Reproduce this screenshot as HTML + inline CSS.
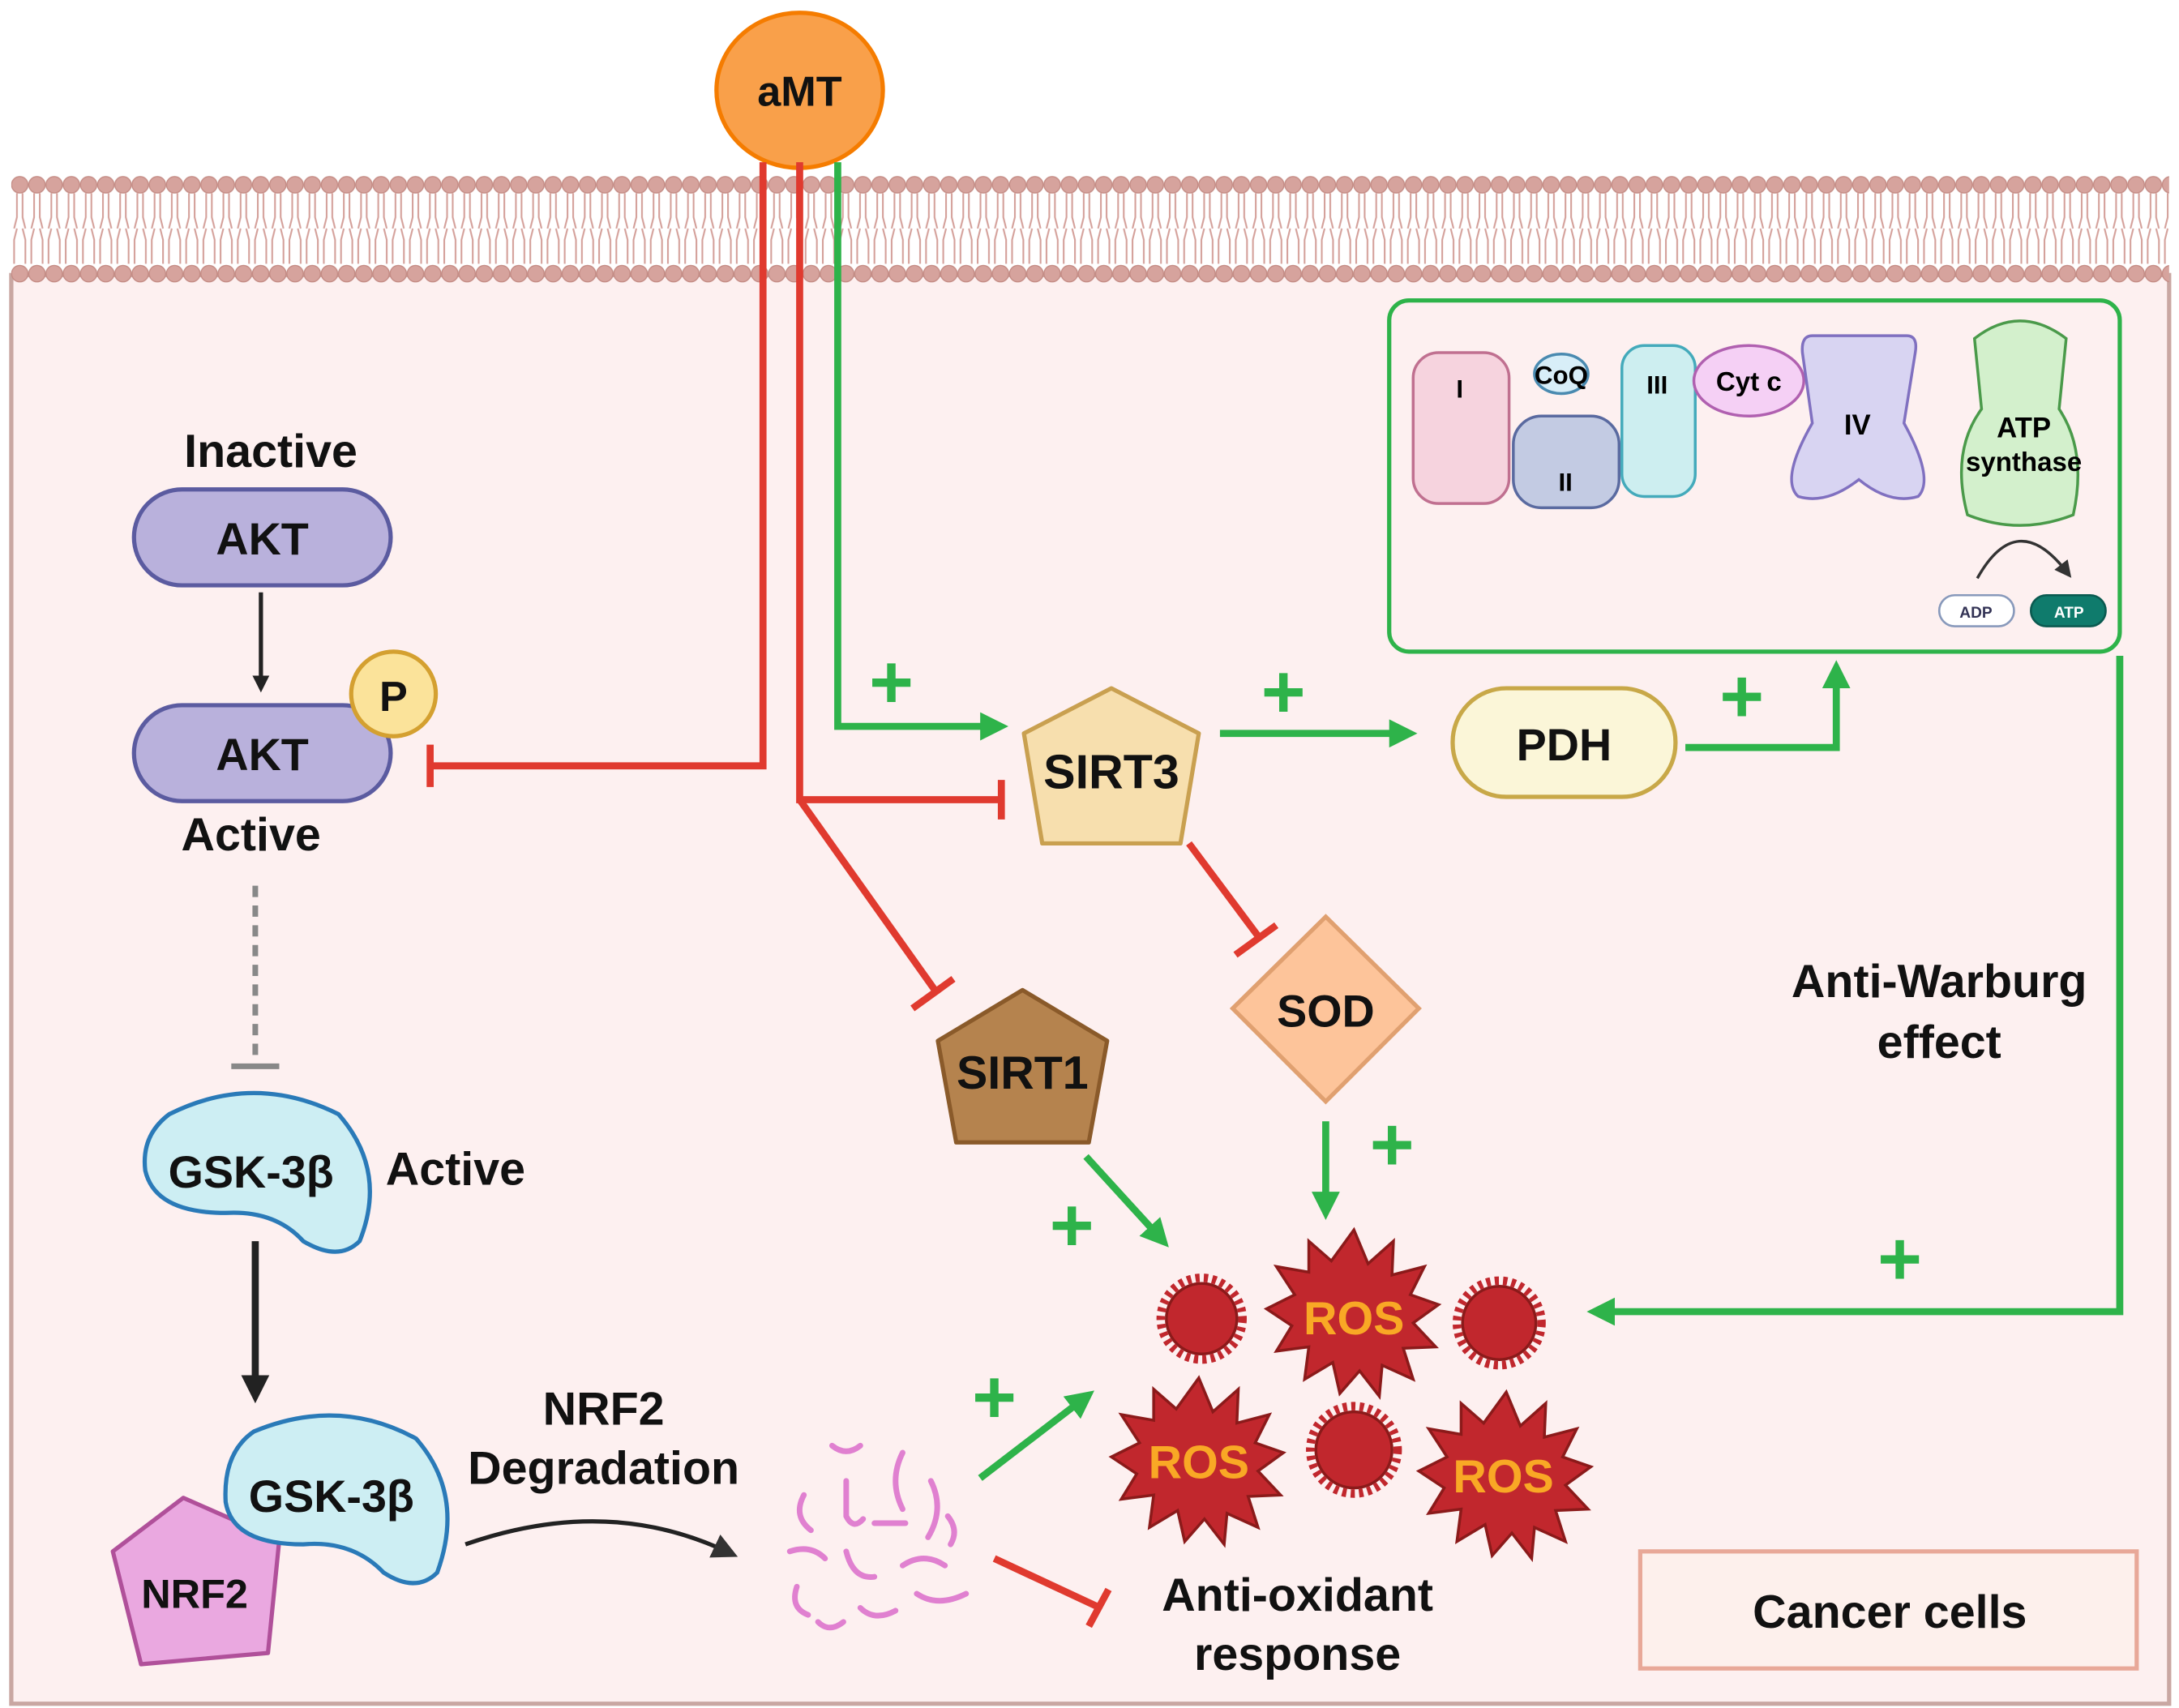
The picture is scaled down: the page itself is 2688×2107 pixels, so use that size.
<!DOCTYPE html>
<html><head><meta charset="utf-8"><style>
html,body{margin:0;padding:0;background:#fff;}
svg{display:block;}
text{font-family:"Liberation Sans",sans-serif;font-weight:bold;}
</style></head><body>
<svg width="2688" height="2107" viewBox="0 0 1545 1211" xmlns="http://www.w3.org/2000/svg">
<defs>
<pattern id="mem" x="8" y="0" width="12.2" height="80" patternUnits="userSpaceOnUse">
<circle cx="6" cy="131" r="6" fill="#d9a9a3"/>
</pattern>
<pattern id="heads" x="8" y="124" width="12.2" height="80" patternUnits="userSpaceOnUse">
<circle cx="6" cy="7" r="5.8" fill="#d6a39d" stroke="#c48b84" stroke-width="0.8"/>
<path d="M4 13 V30 L2 38 M8 13 V30 L10 38" stroke="#d4a09a" stroke-width="1.2" fill="none"/>
<path d="M4 38 L2 46 V63 M8 38 L10 46 V63" stroke="#d4a09a" stroke-width="1.2" fill="none"/>
<circle cx="6" cy="70" r="5.8" fill="#d6a39d" stroke="#c48b84" stroke-width="0.8"/>
</pattern>
<marker id="ag" viewBox="0 0 10 10" refX="5" refY="5" markerWidth="4" markerHeight="4" orient="auto"><path d="M0 0 L10 5 L0 10 z" fill="#2eb34a"/></marker>
<marker id="ak" viewBox="0 0 10 10" refX="5" refY="5" markerWidth="4" markerHeight="4" orient="auto"><path d="M0 0 L10 5 L0 10 z" fill="#222"/></marker>
<marker id="ak2" viewBox="0 0 10 10" refX="5" refY="5" markerWidth="6" markerHeight="6" orient="auto"><path d="M0 0 L10 5 L0 10 z" fill="#333"/></marker>
</defs>
<rect width="1545" height="1211" fill="#fff"/>
<!-- cell -->
<rect x="8" y="195" width="1530" height="1013" fill="#fdf0f0" stroke="#c9a7a2" stroke-width="3"/>
<rect x="8" y="124" width="1530" height="78" fill="url(#heads)"/>
<!-- aMT -->
<ellipse cx="567" cy="64" rx="59" ry="55" fill="#f9a04a" stroke="#f57c00" stroke-width="3"/>
<text x="567" y="75" font-size="30" text-anchor="middle" fill="#111">aMT</text>
<!-- red lines -->
<g stroke="#e03a2f" stroke-width="5" fill="none">
<path d="M541 115 V543 H305"/><path d="M305 528 V558"/>
<path d="M567 115 V567 H710"/><path d="M710 553 V581"/>
<path d="M567 567 L665 705"/><path d="M647 715 L676 694"/>
<path d="M843 598 L893 665"/><path d="M876 677 L905 656"/>
<path d="M705 1105 L780 1140"/><path d="M772 1153 L786 1127"/>
</g>
<!-- green lines -->
<g stroke="#2eb34a" stroke-width="5" fill="none">
<path d="M594 115 V515 H705" marker-end="url(#ag)"/>
<path d="M865 520 H995" marker-end="url(#ag)"/>
<path d="M1195 530 H1302 V478" marker-end="url(#ag)"/>
<path d="M1503 465 V930 H1135" marker-end="url(#ag)"/>
<path d="M940 795 V855" marker-end="url(#ag)"/>
<path d="M770 820 L822 877" marker-end="url(#ag)"/>
<path d="M695 1048 L768 992" marker-end="url(#ag)"/>
</g>
<g fill="#2eb34a" font-size="54" text-anchor="middle">
<text x="632" y="502">+</text><text x="910" y="509">+</text><text x="1235" y="512">+</text>
<text x="1347" y="911">+</text><text x="987" y="830">+</text><text x="760" y="887">+</text><text x="705" y="1009">+</text>
</g>
<!-- ETC box -->
<rect x="985" y="213" width="518" height="249" rx="14" fill="none" stroke="#2eb34a" stroke-width="3"/>
<rect x="1002" y="250" width="68" height="107" rx="18" fill="#f6d3de" stroke="#c07090" stroke-width="2"/>
<text x="1035" y="282" font-size="18" text-anchor="middle" font-weight="normal">I</text>
<rect x="1073" y="295" width="75" height="65" rx="20" fill="#c3cbe3" stroke="#5a6aa0" stroke-width="2"/>
<text x="1110" y="348" font-size="18" text-anchor="middle">II</text>
<ellipse cx="1107" cy="265" rx="19" ry="14" fill="#d8eef8" stroke="#4a8ab0" stroke-width="2"/>
<text x="1107" y="272" font-size="18" text-anchor="middle">CoQ</text>
<rect x="1150" y="245" width="52" height="107" rx="16" fill="#cdeef0" stroke="#4ab" stroke-width="2"/>
<text x="1175" y="279" font-size="18" text-anchor="middle">III</text>
<ellipse cx="1240" cy="270" rx="39" ry="25" fill="#f5d0f5" stroke="#b060b0" stroke-width="2"/>
<text x="1240" y="277" font-size="19" text-anchor="middle">Cyt c</text>
<path d="M1285 238 H1352 Q1360 238 1358 250 L1350 300 Q1372 340 1360 352 Q1340 358 1318 340 Q1295 358 1275 352 Q1262 340 1285 300 L1278 250 Q1277 238 1285 238 Z" fill="#d8d4f2" stroke="#8070c0" stroke-width="2"/>
<text x="1317" y="308" font-size="20" text-anchor="middle">IV</text>
<path d="M1400 240 Q1432 215 1465 240 L1460 290 Q1480 320 1470 365 Q1432 380 1395 365 Q1383 320 1405 290 Z" fill="#d3f0cc" stroke="#4a9a4a" stroke-width="2"/>
<text x="1435" y="310" font-size="20" text-anchor="middle">ATP</text>
<text x="1435" y="334" font-size="19" text-anchor="middle" font-weight="normal">synthase</text>
<path d="M1402 410 Q1430 360 1465 405" stroke="#333" stroke-width="2" fill="none" marker-end="url(#ak2)"/>
<rect x="1375" y="422" width="53" height="22" rx="11" fill="#fff" stroke="#8899bb" stroke-width="1.5"/>
<text x="1401" y="438" font-size="11" text-anchor="middle" font-weight="normal" fill="#335">ADP</text>
<rect x="1440" y="422" width="53" height="22" rx="11" fill="#0f7b6c" stroke="#0a5a50" stroke-width="1.5"/>
<text x="1467" y="438" font-size="11" text-anchor="middle" font-weight="normal" fill="#fff">ATP</text>
<!-- SIRT3 -->
<polygon points="788,488 850,520 837,598 739,598 726,520" fill="#f7dfae" stroke="#c9a050" stroke-width="3" stroke-linejoin="round"/>
<text x="788" y="559" font-size="34" text-anchor="middle" fill="#111">SIRT3</text>
<!-- PDH -->
<rect x="1030" y="488" width="158" height="77" rx="38" fill="#fbf6d8" stroke="#c8a848" stroke-width="3"/>
<text x="1109" y="539" font-size="32" text-anchor="middle" fill="#111">PDH</text>
<!-- SOD -->
<polygon points="940,650 1006,715 940,781 874,715" fill="#fdc49a" stroke="#e0a070" stroke-width="3"/>
<text x="940" y="728" font-size="32" text-anchor="middle" fill="#111">SOD</text>
<!-- SIRT1 -->
<polygon points="725,702 785,738 772,810 678,810 665,738" fill="#b5834e" stroke="#8a5a2a" stroke-width="3" stroke-linejoin="round"/>
<text x="725" y="772" font-size="33" text-anchor="middle" fill="#111">SIRT1</text>
<text x="1375" y="707" font-size="33" text-anchor="middle" fill="#111">Anti-Warburg</text>
<text x="1375" y="750" font-size="33" text-anchor="middle" fill="#111">effect</text>
<!-- ROS -->
<g fill="#c1272d" stroke="#8b1a1a" stroke-width="2">
<polygon id="b1" points="960,872 970,896 988,880 987,904 1010,898 1000,918 1020,925 1002,938 1018,955 995,956 1002,978 980,968 978,990 964,972 950,988 945,966 925,978 928,955 905,958 916,940 898,928 918,918 905,898 928,902 928,880 944,894"/>
<polygon points="850,977 860,1001 878,985 877,1009 900,1003 890,1023 910,1030 892,1043 908,1060 885,1061 892,1083 870,1073 868,1095 854,1077 840,1093 835,1071 815,1083 818,1060 795,1063 806,1045 788,1033 808,1023 795,1003 818,1007 818,985 834,999"/>
<polygon points="1068,987 1078,1011 1096,995 1095,1019 1118,1013 1108,1033 1128,1040 1110,1053 1126,1070 1103,1071 1110,1093 1088,1083 1086,1105 1072,1087 1058,1103 1053,1081 1033,1093 1036,1070 1013,1073 1024,1055 1006,1043 1026,1033 1013,1013 1036,1017 1036,995 1052,1009"/>
</g>
<g fill="#c1272d" stroke="#8b1a1a" stroke-width="2">
<circle cx="852" cy="935" r="25"/><circle cx="1063" cy="938" r="26"/><circle cx="960" cy="1028" r="27"/>
</g>
<g fill="none" stroke="#c1272d" stroke-width="6" stroke-dasharray="3 3">
<circle cx="852" cy="935" r="29"/><circle cx="1063" cy="938" r="30"/><circle cx="960" cy="1028" r="31"/>
</g>
<g fill="#f9a825" font-size="33" text-anchor="middle">
<text x="960" y="946">ROS</text><text x="850" y="1048">ROS</text><text x="1066" y="1058">ROS</text>
</g>
<text x="920" y="1142" font-size="33" text-anchor="middle" fill="#111">Anti-oxidant</text>
<text x="920" y="1184" font-size="33" text-anchor="middle" fill="#111">response</text>
<rect x="1163" y="1100" width="352" height="83" fill="#fdf0ec" stroke="#e8a898" stroke-width="3"/>
<text x="1340" y="1154" font-size="33" text-anchor="middle" fill="#111">Cancer cells</text>
<!-- left -->
<text x="192" y="331" font-size="33" text-anchor="middle" fill="#111">Inactive</text>
<rect x="95" y="347" width="182" height="68" rx="34" fill="#b9b1dc" stroke="#5b5ba0" stroke-width="3"/>
<text x="186" y="393" font-size="32" text-anchor="middle" fill="#111">AKT</text>
<path d="M185 420 V485" stroke="#222" stroke-width="3" marker-end="url(#ak)"/>
<rect x="95" y="500" width="182" height="68" rx="34" fill="#b9b1dc" stroke="#5b5ba0" stroke-width="3"/>
<text x="186" y="546" font-size="32" text-anchor="middle" fill="#111">AKT</text>
<circle cx="279" cy="492" r="30" fill="#fbe39a" stroke="#d4a030" stroke-width="3"/>
<text x="279" y="504" font-size="30" text-anchor="middle" font-weight="normal" fill="#111">P</text>
<text x="178" y="603" font-size="33" text-anchor="middle" fill="#111">Active</text>
<path d="M181 628 V752" stroke="#888" stroke-width="4" stroke-dasharray="8 6"/>
<path d="M164 756 H198" stroke="#888" stroke-width="4"/>
<path d="M120 790 Q180 760 240 790 Q275 830 255 880 Q240 895 215 880 Q195 858 160 860 Q110 860 103 830 Q100 805 120 790 Z" fill="#cdeef3" stroke="#2a7ab8" stroke-width="3"/>
<text x="178" y="842" font-size="32" text-anchor="middle" fill="#111">GSK-3β</text>
<text x="323" y="840" font-size="33" text-anchor="middle" fill="#111">Active</text>
<path d="M181 880 V985" stroke="#222" stroke-width="5" marker-end="url(#ak)"/>
<polygon points="130,1062 198,1092 190,1172 100,1180 80,1100" fill="#eaa8e0" stroke="#b0509a" stroke-width="3" stroke-linejoin="round"/>
<text x="138" y="1140" font-size="29" text-anchor="middle" fill="#111">NRF2</text>
<path d="M180 1015 Q240 990 295 1020 Q330 1060 310 1115 Q295 1130 272 1115 Q250 1092 215 1095 Q165 1095 160 1065 Q158 1030 180 1015 Z" fill="#cdeef3" stroke="#2a7ab8" stroke-width="3"/>
<text x="235" y="1072" font-size="32" text-anchor="middle" fill="#111">GSK-3β</text>
<text x="428" y="1010" font-size="33" text-anchor="middle" fill="#111">NRF2</text>
<text x="428" y="1052" font-size="33" text-anchor="middle" fill="#111">Degradation</text>
<path d="M330 1095 Q430 1060 515 1100" stroke="#222" stroke-width="3" fill="none" marker-end="url(#ak2)"/>
<g stroke="#e080d0" stroke-width="4" fill="none" stroke-linecap="round">
<path d="M590 1025 q10 8 20 0"/><path d="M570 1060 q-8 15 5 25"/><path d="M600 1050 v25 q5 10 12 2"/>
<path d="M640 1030 q-10 20 0 40"/><path d="M660 1050 q10 20 -2 40"/><path d="M560 1100 q15 -5 25 5"/>
<path d="M600 1100 q5 20 20 18"/><path d="M640 1110 q15 -10 30 0"/><path d="M565 1125 q-5 15 8 20"/>
<path d="M610 1140 q10 10 25 2"/><path d="M650 1130 q15 10 35 0"/><path d="M620 1080 h22"/>
<path d="M580 1150 q8 8 18 0"/><path d="M672 1075 q8 10 2 20"/>
</g>
</svg>
</body></html>
